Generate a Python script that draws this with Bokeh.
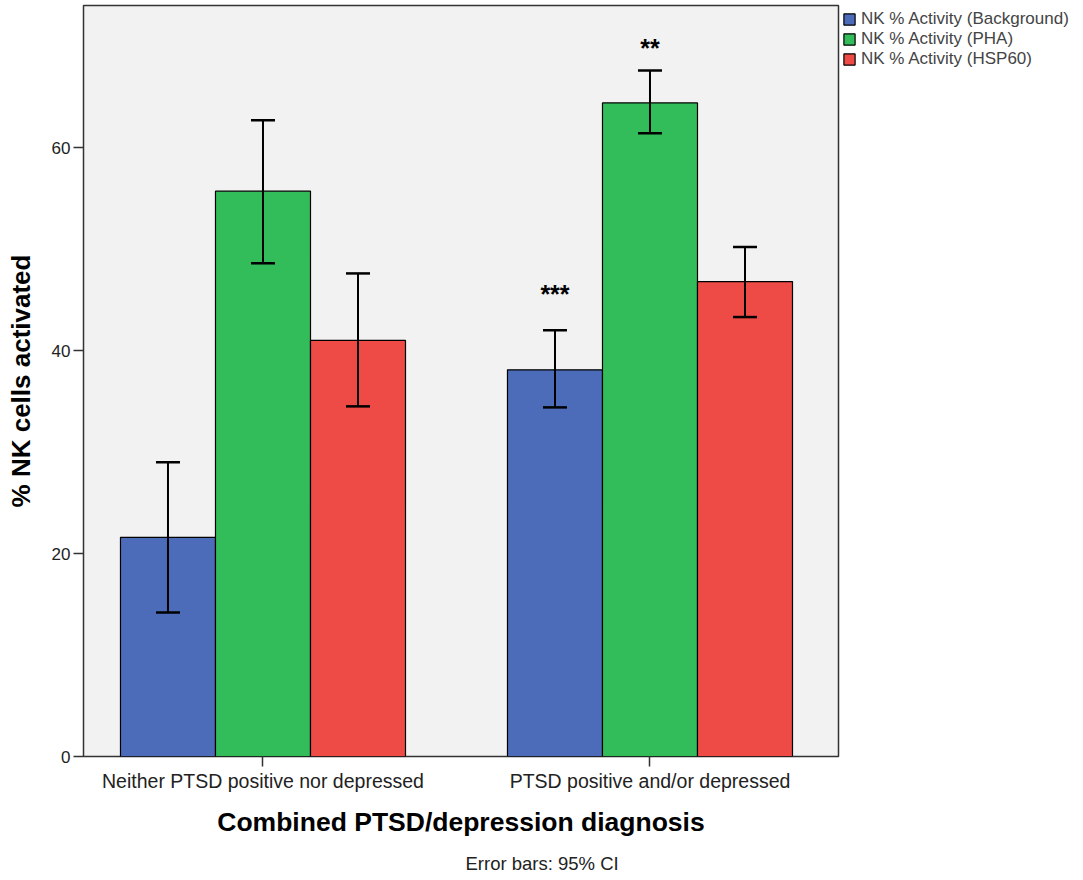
import numpy as np
from bokeh.plotting import figure
from bokeh.models import (ColumnDataSource, Range1d, FixedTicker, Whisker, TeeHead,
                          Legend, LegendItem, Title)
from bokeh.core.properties import value
from bokeh.embed import file_html
from bokeh.resources import INLINE

groups = ["Neither PTSD positive nor depressed", "PTSD positive and/or depressed"]
series = ["NK % Activity (Background)", "NK % Activity (PHA)", "NK % Activity (HSP60)"]
colors = ["#4C6BB8", "#33BD5A", "#EE4B46"]

means = [[21.6, 38.1], [55.7, 64.4], [41.0, 46.8]]
ci_low = [[14.2, 34.4], [48.6, 61.4], [34.5, 43.3]]
ci_high = [[29.0, 42.0], [62.7, 67.6], [47.6, 50.2]]
stars = [["", "***"], ["", "**"], ["", ""]]
star_y = [[0, 45.9], [0, 70.1], [0, 0]]

y_ticks = [0, 20, 40, 60]

FONT = "Liberation Sans"
bar_w = 0.2455
gidx = np.arange(len(groups))

p = figure(frame_width=755, frame_height=751, output_backend="svg", toolbar_location=None,
           x_range=Range1d(-0.4638, 1.4871), y_range=Range1d(0, 74),
           min_border_left=83, min_border_right=10, min_border_top=5, min_border_bottom=10)
p.background_fill_color = "#F2F2F2"
p.border_fill_color = "white"
p.outline_line_color = "#333333"
p.outline_line_width = 1.5
p.grid.visible = False

items = []
for i, (name, col) in enumerate(zip(series, colors)):
    xs = gidx + (i - 1) * bar_w
    src = ColumnDataSource(dict(x=xs, top=means[i], lo=ci_low[i], hi=ci_high[i],
                                st=stars[i], sy=star_y[i]))
    r = p.vbar(x="x", top="top", bottom=0, width=bar_w, source=src,
               fill_color=col, line_color="black", line_width=1.2)
    items.append(LegendItem(label=name, renderers=[r]))
    w = Whisker(base="x", upper="hi", lower="lo", source=src, line_color="black", line_width=2,
                level="overlay",
                upper_head=TeeHead(size=24, line_color="black", line_width=2.5),
                lower_head=TeeHead(size=24, line_color="black", line_width=2.5))
    p.add_layout(w)
    p.text(x="x", y="sy", text="st", source=src, text_align="center", text_baseline="middle",
           y_offset=3,
           text_font=value(FONT), text_font_size="25px", text_font_style="bold", text_color="black")

# axes
p.yaxis.ticker = FixedTicker(ticks=y_ticks)
p.yaxis.axis_label = "% NK cells activated"
p.yaxis.axis_label_text_font = FONT
p.yaxis.axis_label_text_font_size = "26px"
p.yaxis.axis_label_text_font_style = "bold"
p.yaxis.axis_label_text_color = "black"
p.yaxis.major_label_text_font = FONT
p.yaxis.major_label_text_font_size = "17px"
p.yaxis.major_label_text_color = "#222222"
p.yaxis.major_label_standoff = 3
p.yaxis.minor_tick_line_color = None
p.yaxis.major_tick_out = 10
p.yaxis.major_tick_in = 0
p.yaxis.axis_line_color = None
p.yaxis.major_tick_line_color = "#333333"
p.yaxis.major_tick_line_width = 1.5
p.yaxis.axis_label_standoff = 13

p.xaxis.ticker = FixedTicker(ticks=list(gidx))
p.xaxis.major_label_overrides = {int(i): g for i, g in zip(gidx, groups)}
p.xaxis.axis_label = "Combined PTSD/depression diagnosis"
p.xaxis.axis_label_text_font = FONT
p.xaxis.axis_label_text_font_size = "26.5px"
p.xaxis.axis_label_text_font_style = "bold"
p.xaxis.axis_label_text_color = "black"
p.xaxis.major_label_text_font = FONT
p.xaxis.major_label_text_font_size = "19.5px"
p.xaxis.major_label_text_color = "#222222"
p.xaxis.major_label_standoff = 3
p.xaxis.minor_tick_line_color = None
p.xaxis.major_tick_out = 10
p.xaxis.major_tick_in = 0
p.xaxis.axis_line_color = None
p.xaxis.major_tick_line_color = "#333333"
p.xaxis.major_tick_line_width = 1.5
p.xaxis.axis_label_standoff = 12

note = Title(text="Error bars: 95% CI", align="left", offset=382, standoff=23,
             text_font=FONT, text_font_size="18.5px", text_font_style="normal",
             text_color="#222222")
p.add_layout(note, "below")

legend = Legend(items=items, location="top_left", margin=4, padding=1, spacing=0,
                glyph_width=14, glyph_height=14, label_height=14,
                label_text_font=FONT, label_text_font_size="17px",
                label_text_line_height=0.85,
                label_standoff=5, border_line_color=None,
                background_fill_color="white")
p.add_layout(legend, "right")

open("out.html", "w").write(file_html(p, INLINE))
